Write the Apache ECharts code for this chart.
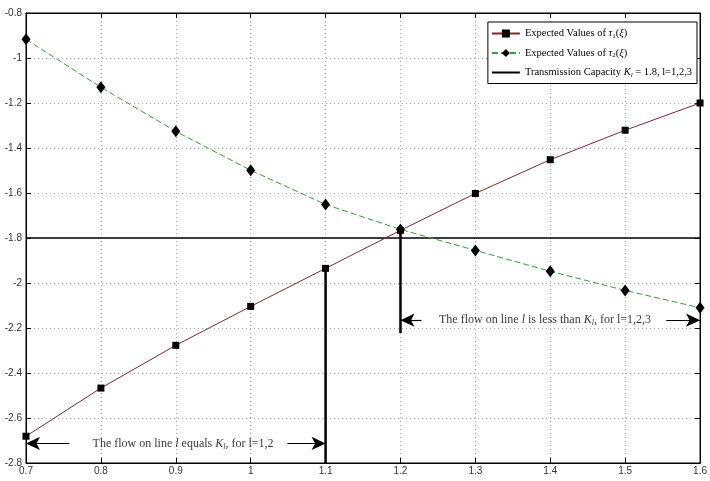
<!DOCTYPE html>
<html>
<head>
<meta charset="utf-8">
<script src="https://cdn.jsdelivr.net/npm/echarts@6/dist/echarts.min.js"></script>
<style>html,body{margin:0;padding:0;background:#fff;}#c{width:710px;height:481px;}</style>
</head>
<body>
<div id="c"></div>
<script>
// Data
var xValues = [0.7, 0.8, 0.9, 1.0, 1.1, 1.2, 1.3, 1.4, 1.5, 1.6];
var tau1Values = [-2.681, -2.467, -2.277, -2.104, -1.935, -1.766, -1.602, -1.452, -1.321, -1.200];
var tau2Values = [-0.917, -1.130, -1.326, -1.499, -1.651, -1.762, -1.855, -1.948, -2.033, -2.110];
var capacity = -1.8;
var xTicks = {min: 0.7, max: 1.6, step: 0.1};
var yTicks = {min: -2.8, max: -0.8, step: 0.2};
// vertical markers: [x, yTop, yBottom]
var markerLine1 = [1.1, -1.935, -2.8];
var markerLine2 = [1.2, -1.762, -2.222];
// annotation arrows: [fromX, toX, y]
var arrows = [[0.758, 0.7, -2.713], [1.049, 1.1, -2.713], [1.228, 1.2, -2.165], [1.555, 1.6, -2.165]];
var annotations = [
  {x: 0.9097, y: -2.713, text: '{n|The flow on line }{i|l}{n| equals }{i|K}{s|l}{n|, for l=1,2}'},
  {x: 1.393, y: -2.165, text: '{n|The flow on line }{i|l}{n| is less than }{i|K}{s|l}{n|, for l=1,2,3}'}
];

var serif = '"Liberation Serif","DejaVu Serif",serif';
var richText = {
  n: {fontFamily: serif, fontSize: 12, color: '#000'},
  i: {fontFamily: serif, fontSize: 12, fontStyle: 'italic', color: '#000'},
  s: {fontFamily: serif, fontSize: 8, fontStyle: 'italic', color: '#000', padding: [6, 0, 0, 0]}
};
var legendRich = {
  n: {fontFamily: serif, fontSize: 10.5, color: '#000'},
  i: {fontFamily: serif, fontSize: 10.5, fontStyle: 'italic', color: '#000'},
  s: {fontFamily: serif, fontSize: 7, color: '#000', padding: [5, 0, 0, 0]},
  si: {fontFamily: serif, fontSize: 7, fontStyle: 'italic', color: '#000', padding: [5, 0, 0, 0]}
};
var legendNames = {
  'tau1': '{n|Expected Values of }{i|τ}{s|1}{n|(}{i|ξ}{n|)}',
  'tau2': '{n|Expected Values of }{i|τ}{s|2}{n|(}{i|ξ}{n|)}',
  'cap': '{n|Transmission Capacity }{i|K}{si|l}{n| = 1.8, l=1,2,3}'
};

function fmt(v) { return String(+v.toFixed(1)); }

var series = [
  {
    name: 'cap', type: 'line', data: [[xTicks.min, capacity], [xTicks.max, capacity]],
    symbol: 'none', lineStyle: {color: '#000', width: 1.5}, itemStyle: {color: '#000'}, silent: true, z: 3
  },
  {
    name: 'vline1', type: 'line', data: [[markerLine1[0], markerLine1[1]], [markerLine1[0], markerLine1[2]]],
    symbol: 'none', lineStyle: {color: '#000', width: 2.5}, silent: true, z: 3
  },
  {
    name: 'vline2', type: 'line', data: [[markerLine2[0], markerLine2[1]], [markerLine2[0], markerLine2[2]]],
    symbol: 'none', lineStyle: {color: '#000', width: 2.5}, silent: true, z: 3
  },
  {
    name: 'tau1', type: 'line', data: xValues.map(function (x, i) { return [x, tau1Values[i]]; }),
    symbol: 'rect', symbolSize: 7, showAllSymbol: true,
    lineStyle: {color: '#7a2a2a', width: 1}, itemStyle: {color: '#000', borderWidth: 0}, z: 5
  },
  {
    name: 'tau2', type: 'line', data: xValues.map(function (x, i) { return [x, tau2Values[i]]; }),
    symbol: 'diamond', symbolSize: [9, 12], showAllSymbol: true,
    lineStyle: {color: '#3a9a3a', width: 1, type: [6, 3]}, itemStyle: {color: '#000', borderWidth: 0}, z: 5
  },
  {
    name: 'arrows', type: 'line', data: [], silent: true,
    markLine: {
      silent: true, symbol: ['none', 'arrow'], symbolSize: [10, 14],
      label: {show: false},
      lineStyle: {color: '#000', width: 1.2, type: 'solid'},
      data: arrows.map(function (a) { return [{coord: [a[0], a[2]]}, {coord: [a[1], a[2]]}]; })
    }
  },
  {
    name: 'notes', type: 'scatter', silent: true,
    data: annotations.map(function (a) { return {value: [a.x, a.y], label: {formatter: a.text}}; }),
    symbolSize: 1, itemStyle: {color: 'rgba(0,0,0,0)'},
    label: {show: true, position: 'inside', rich: richText}
  }
];

var chart = echarts.init(document.getElementById('c'));
chart.setOption({
  animation: false,
  backgroundColor: '#fff',
  grid: {left: 26, right: 6, top: 13, bottom: 18, show: true, borderColor: '#000', borderWidth: 1, backgroundColor: '#fff'},
  legend: {
    data: ['tau1', 'tau2', {name: 'cap', itemStyle: {opacity: 0}}],
    orient: 'vertical', right: 13, top: 22,
    backgroundColor: '#fff', borderColor: '#000', borderWidth: 1,
    padding: [6, 5, 5, 3], itemGap: 8, itemWidth: 28, itemHeight: 10,
    formatter: function (name) { return legendNames[name]; },
    textStyle: {rich: legendRich},
    selectedMode: false
  },
  xAxis: [
    {
      type: 'value', min: xTicks.min, max: xTicks.max, interval: xTicks.step, position: 'bottom',
      axisLine: {show: true, onZero: false, lineStyle: {color: '#000'}},
      axisTick: {show: true, inside: true, length: 5, lineStyle: {color: '#000'}},
      axisLabel: {formatter: fmt, fontSize: 10, color: '#333', margin: 3, fontFamily: '"Liberation Sans",Arial,sans-serif'},
      splitLine: {show: true, lineStyle: {color: '#aaa', type: [1, 3], width: 1}}
    },
    {
      type: 'value', min: xTicks.min, max: xTicks.max, interval: xTicks.step, position: 'top',
      axisLine: {show: true, onZero: false, lineStyle: {color: '#000'}},
      axisTick: {show: true, inside: true, length: 5, lineStyle: {color: '#000'}},
      axisLabel: {show: false}, splitLine: {show: false}
    }
  ],
  yAxis: [
    {
      type: 'value', min: yTicks.min, max: yTicks.max, interval: yTicks.step, position: 'left',
      axisLine: {show: true, onZero: false, lineStyle: {color: '#000'}},
      axisTick: {show: true, inside: true, length: 5, lineStyle: {color: '#000'}},
      axisLabel: {formatter: fmt, fontSize: 10, color: '#333', margin: 4, fontFamily: '"Liberation Sans",Arial,sans-serif'},
      splitLine: {show: true, lineStyle: {color: '#aaa', type: [1, 3], width: 1}}
    },
    {
      type: 'value', min: yTicks.min, max: yTicks.max, interval: yTicks.step, position: 'right',
      axisLine: {show: true, onZero: false, lineStyle: {color: '#000'}},
      axisTick: {show: true, inside: true, length: 5, lineStyle: {color: '#000'}},
      axisLabel: {show: false}, splitLine: {show: false}
    }
  ],
  series: series
});
</script>
</body>
</html>
